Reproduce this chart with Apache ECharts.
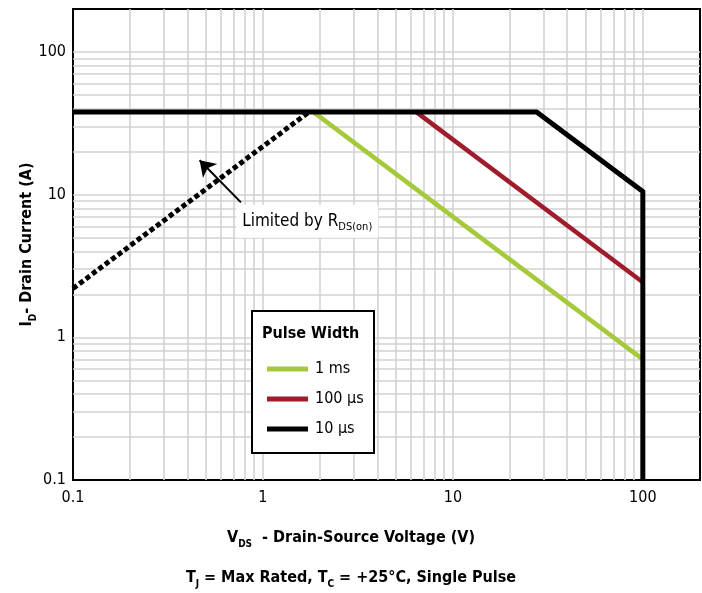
<!DOCTYPE html>
<html>
<head>
<meta charset="utf-8">
<script src="https://cdn.jsdelivr.net/npm/echarts@6/dist/echarts.min.js"></script>
<style>html,body{margin:0;padding:0;background:#fff}#c{width:702px;height:593px}</style>
</head>
<body>
<div id="c"></div>
<script>
// ---- data ----
const curve1ms   = [[1.84, 38], [100, 0.70]];
const curve100us = [[6.4, 38], [100, 2.43]];
const curve10us  = [[0.1, 38], [27.6, 38], [100, 10.5], [100, 0.1]];
const rdsOnLimit = [[0.1, 2.2], [1.75, 38]];
const seriesNames = ['1 ms', '100 µs', '10 µs'];
const gridValues = [0.2,0.3,0.4,0.5,0.6,0.7,0.8,0.9,1,2,3,4,5,6,7,8,9,10,20,30,40,50,60,70,80,90,100];
const axisMin = 0.1, axisMax = 200;
const arrowFrom = [0.766, 8.83], arrowTo = [0.464, 17.4];
const noteAt = [1.71, 6.5];

const FONT = "'Liberation Sans Narrow', 'DejaVu Sans Condensed', sans-serif";
const FS = 16;
const GREEN = '#a5c93b', RED = '#9e1c2b', BLACK = '#000';

function decadeLabel(v) {
  const l = Math.log10(v);
  if (Math.abs(l - Math.round(l)) < 1e-6) return String(+v.toPrecision(3));
  return '';
}
const boldRich = {
  b: {fontFamily: FONT, fontWeight: 'bold', fontSize: FS, color: '#000', lineHeight: 22},
  s: {fontFamily: FONT, fontWeight: 'bold', fontSize: 10, color: '#000', verticalAlign: 'bottom', lineHeight: 16}
};

const chart = echarts.init(document.getElementById('c'), null, {renderer: 'canvas'});
const option = {
  animation: false,
  backgroundColor: '#fff',
  grid: {left: 73, right: 2, top: 9, bottom: 113, show: true, borderColor: '#000', borderWidth: 2, backgroundColor: 'transparent'},
  title: [
    {text: '{b|V}{s|DS}{b|  - Drain-Source Voltage (V)}', left: 'center', top: 522, textStyle: {rich: boldRich}},
    {text: '{b|T}{s|J}{b| = Max Rated, T}{s|C}{b| = +25°C, Single Pulse}', left: 'center', top: 562, textStyle: {rich: boldRich}}
  ],
  legend: {
    data: seriesNames, orient: 'vertical', left: 262, top: 354, z: 20,
    icon: 'rect', itemWidth: 41, itemHeight: 5, itemGap: 10, itemStyle: {borderWidth: 0},
    textStyle: {fontFamily: FONT, fontSize: FS, color: '#000', lineHeight: 20, padding: [0,0,0,2]},
    selectedMode: false
  },
  graphic: [
    {type: 'rect', left: 251, top: 310, z: 10, shape: {width: 122, height: 142},
     style: {fill: '#fff', stroke: '#000', lineWidth: 2}},
    {type: 'text', left: 262, top: 326, z: 11,
     style: {text: 'Pulse Width', fontFamily: FONT, fontWeight: 'bold', fontSize: FS, fill: '#000'}}
  ],
  xAxis: {
    type: 'log', logBase: 10, min: axisMin, max: axisMax,
    axisLine: {show: true, lineStyle: {color: '#000', width: 2}},
    axisTick: {show: false}, splitLine: {show: false},
    axisLabel: {formatter: decadeLabel, fontFamily: FONT, fontSize: FS, color: '#000', margin: 10, showMaxLabel: false}
  },
  yAxis: {
    type: 'log', logBase: 10, min: axisMin, max: axisMax,
    name: '{b|I}{s|D}{b|- Drain Current (A)}', nameLocation: 'middle', nameRotate: 90, nameGap: 35,
    nameMoveOverlap: false,
    nameTextStyle: {rich: boldRich},
    axisLine: {show: true, lineStyle: {color: '#000', width: 2}},
    axisTick: {show: false}, splitLine: {show: false},
    axisLabel: {formatter: decadeLabel, fontFamily: FONT, fontSize: FS, color: '#000', margin: 7, showMaxLabel: false}
  },
  series: [
    {name: 'grid', type: 'line', data: [], z: 1, silent: true,
     markLine: {z: 1, silent: true, symbol: ['none', 'none'], label: {show: false}, animation: false,
       lineStyle: {color: '#d2d2d2', width: 1.6, type: 'solid'},
       emphasis: {disabled: true},
       data: gridValues.map(v => ({xAxis: v})).concat(gridValues.map(v => ({yAxis: v})))}},
    {name: '1 ms', type: 'line', data: curve1ms, z: 3, symbol: 'none', lineStyle: {color: GREEN, width: 4.5}, itemStyle: {color: GREEN}},
    {name: '100 µs', type: 'line', data: curve100us, z: 3, symbol: 'none', lineStyle: {color: RED, width: 4.5}, itemStyle: {color: RED}},
    {name: '10 µs', type: 'line', data: curve10us, z: 4, symbol: 'none', lineStyle: {color: BLACK, width: 5, join: 'miter'}, itemStyle: {color: BLACK}},
    {name: 'RDS(on) limit', type: 'line', data: rdsOnLimit, z: 3, symbol: 'none',
     lineStyle: {color: BLACK, width: 5, type: [5, 3], cap: 'butt'},
     markLine: {z: 6, silent: true, symbol: ['none', 'arrow'], symbolSize: 15, label: {show: false},
       lineStyle: {color: '#000', width: 2, type: 'solid'},
       data: [[{coord: arrowFrom}, {coord: arrowTo}]]},
     markPoint: {z: 7, silent: true, symbol: 'rect', symbolSize: 1, itemStyle: {color: 'rgba(0,0,0,0)'},
       data: [{coord: noteAt}],
       label: {show: true, position: 'inside', backgroundColor: '#fff', padding: [6, 6, 5, 6],
         formatter: '{a|Limited by R}{s|DS(on)}',
         rich: {
           a: {fontFamily: FONT, fontSize: 17, color: '#000', lineHeight: 22},
           s: {fontFamily: FONT, fontSize: 11, color: '#000', verticalAlign: 'bottom', lineHeight: 16}
         }}}}
  ]
};
chart.setOption(option);
</script>
</body>
</html>
